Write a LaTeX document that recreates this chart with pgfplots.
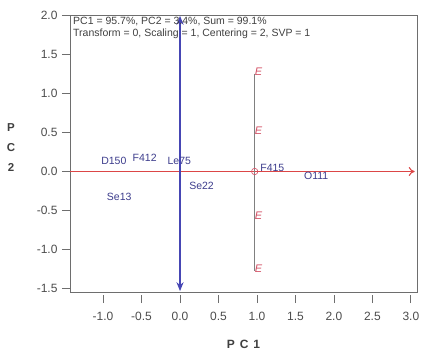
\documentclass[border=0pt]{standalone}
\usepackage{fontspec}
\setmainfont{Liberation Sans}
\usepackage{pgfplots}
\pgfplotsset{compat=1.18}
\usetikzlibrary{arrows.meta}
\definecolor{arrblue}{RGB}{70,70,180}
\definecolor{arrred}{RGB}{220,70,70}
\definecolor{lblblue}{RGB}{60,60,140}
\definecolor{epink}{RGB}{210,80,100}
\definecolor{axgray}{RGB}{110,110,110}
\begin{document}
\begin{tikzpicture}
\begin{axis}[
  at={(0pt,0pt)}, anchor=south west,
  scale only axis, width=347pt, height=277pt,
  xmin=-1.43, xmax=3.08, ymin=-1.54, ymax=2.0,
  xtick={-1,-0.5,0,0.5,1,1.5,2,2.5,3},
  ytick={-1.5,-1,-0.5,0,0.5,1,1.5,2},
  xtick pos=bottom, ytick pos=left,
  tick align=outside, major tick length=8pt,
  axis line style={axgray, line width=0.9pt},
  tick style={axgray, line width=0.8pt},
  xtick style={yshift=-3pt},
  ticklabel style={font=\fontsize{12}{13}\selectfont, text=black!70},
  /pgf/number format/.cd, fixed, fixed zerofill, precision=1, assume math mode=true,
  /pgfplots/.cd,
  xticklabel style={yshift=-9pt},
  yticklabel style={xshift=-1pt},
  clip=false,
]
% red horizontal arrow (PC1 loading)
\addplot[arrred, line width=1.1pt, -{To[length=6pt,width=9pt]}] coordinates {(-1.43,0) (3.05,0)};
% blue vertical arrow
\addplot[arrblue, line width=2.1pt, {Stealth[length=9pt,width=7pt]}-{Stealth[length=9pt,width=7pt]}] coordinates {(0,1.99) (0,-1.53)};
% grey vertical line
\addplot[gray, line width=0.9pt] coordinates {(0.97,1.25) (0.97,-1.27)};
% small circle
\addplot[only marks, mark=o, mark size=3.2pt, epink, mark options={line width=0.6pt}] coordinates {(0.97,0)};
% E labels
\addplot[only marks, mark=none, nodes near coords, point meta=explicit symbolic,
  nodes near coords style={anchor=center, text=epink, font=\fontsize{11}{12}\itshape\selectfont}]
  coordinates {(1.02,1.27)[E] (1.02,0.52)[E] (1.02,-0.56)[E] (1.02,-1.24)[E]};
% sample labels
\addplot[only marks, mark=none, nodes near coords, point meta=explicit symbolic,
  nodes near coords style={anchor=center, text=lblblue, font=\fontsize{10.5}{12}\selectfont}]
  coordinates {(-0.86,0.13)[D150] (-0.46,0.17)[F412] (-0.01,0.14)[Le75] (-0.79,-0.33)[Se13] (0.28,-0.18)[Se22] (1.20,0.05)[F415] (1.77,-0.06)[O111]};
\node[anchor=north west, align=left, inner sep=0pt, font=\fontsize{10.5}{12}\selectfont, text=black!75] at ([xshift=3pt,yshift=-1.5pt]rel axis cs:0,1)
  {PC1 = 95.7\%, PC2 = 3.4\%, Sum = 99.1\%\\Transform = 0, Scaling = 1, Centering = 2, SVP = 1};
\node[font=\bfseries\fontsize{11.5}{20}\selectfont, align=center, text=black!75] at ([xshift=-59pt]rel axis cs:0,0.52) {P\\C\\2};
\node[font=\bfseries\fontsize{12}{14}\selectfont, text=black!75] at ([yshift=-52pt]rel axis cs:0.5,0) {P\hspace{5pt}C\hspace{5pt}1};
\end{axis}
\pgfresetboundingbox
\path[use as bounding box] (-70pt,-59pt) rectangle (352pt,292pt);
\end{tikzpicture}
\end{document}
